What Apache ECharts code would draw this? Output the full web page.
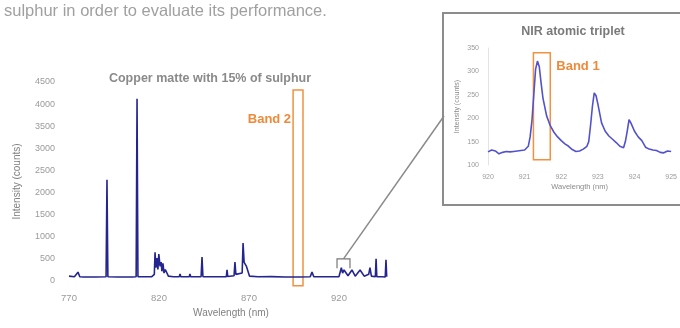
<!DOCTYPE html>
<html>
<head>
<meta charset="utf-8">
<script src="https://cdn.jsdelivr.net/npm/echarts@6/dist/echarts.min.js"></script>
<style>
	html, body { margin: 0; padding: 0; background: #fff; }
	#chart { width: 680px; height: 328px; }
</style>
</head>
<body>
<div id="chart"></div>
<script>
// full spectrum (nm / counts)
var mainWl = [770, 773, 775, 776, 778, 785, 790.6, 791.1, 791.6, 797, 805, 807.3, 807.8, 808.3, 812, 816,
	817.4, 817.8, 818.3, 818.9, 819.4, 819.9, 820.6, 821.2, 821.6, 822.2, 822.8, 823.5, 824.4, 825.2, 828,
	831.3, 831.7, 832.1, 836.8, 837.2, 837.6, 843.4, 843.9, 844.4, 850, 857.4, 857.8, 858.2, 861.7, 862.2,
	862.7, 866.2, 866.7, 867.3, 868.6, 869.4, 870.3, 875, 882.4, 882.8, 883.2, 890, 898, 904, 905, 906, 912,
	920, 921.3, 922, 922.8, 923.8, 925, 927.2, 929, 931.7, 934, 936.5, 937.2, 938, 940.2, 940.6, 941, 944,
	945.7, 946.1, 946.5];
var mainCounts = [110, 95, 200, 95, 90, 90, 95, 2290, 95, 90, 90, 95, 4120, 100, 95, 100,
	150, 650, 300, 520, 260, 610, 330, 430, 220, 400, 180, 260, 300, 110, 95,
	100, 160, 95, 95, 160, 95, 100, 540, 100, 95, 100, 250, 100, 120, 430,
	150, 180, 860, 420, 330, 300, 110, 95, 100, 140, 95, 90, 90, 95, 200, 95, 95,
	100, 300, 180, 250, 220, 120, 250, 110, 250, 110, 150, 300, 110, 95, 500, 95, 95,
	90, 480, 95];
var mainXTicks = [770, 820, 870, 920];

// NIR atomic triplet zoom
var insetWl = [920.0, 920.1, 920.2, 920.3, 920.4, 920.5, 920.6, 920.7, 920.8, 920.9, 921.0, 921.1, 921.15,
	921.2, 921.25, 921.3, 921.35, 921.4, 921.45, 921.5, 921.6, 921.7, 921.8, 921.9, 922.0, 922.1, 922.2,
	922.3, 922.4, 922.5, 922.6, 922.7, 922.75, 922.8, 922.85, 922.9, 922.95, 923.0, 923.1, 923.2, 923.3,
	923.4, 923.5, 923.6, 923.7, 923.75, 923.8, 923.85, 923.9, 924.0, 924.1, 924.2, 924.3, 924.4, 924.5,
	924.6, 924.7, 924.8, 924.9, 925.0];
var insetCounts = [128, 132, 130, 124, 127, 129, 128, 129, 130, 131, 132, 140, 160,
	195, 250, 305, 322, 310, 275, 243, 205, 184, 170, 160, 152, 145, 140,
	133, 129, 130, 134, 140, 150, 185, 225, 254, 248, 230, 190, 172, 162,
	155, 148, 140, 137, 150, 172, 197, 190, 172, 160, 152, 138, 134, 132,
	131, 127, 126, 130, 129];

// highlighted regions
var band2 = [894.5, 900, -110, 4320];
var band1 = [921.24, 921.7, 111, 340];
var zoomBox = [918.9, 926.1, 290, 500];

function pairs(xs, ys){
	var out = [];
	for (var i = 0; i < xs.length; i++) out.push([xs[i], ys[i]]);
	return out;
}
function plain(v){
	return String(v);
}

var chart = echarts.init(document.getElementById('chart'));
var labelGray = '#9a9a9a';
var option = {
	animation: false,
	title: [
		{
			text: 'Copper matte with 15% of sulphur',
			left: 205, top: 67, textAlign: 'center',
			textStyle: { color: '#8a8a8a', fontSize: 12.5, fontWeight: 'bold', fontFamily: 'Liberation Sans' }
		},
		{
			text: 'NIR atomic triplet',
			left: 568, top: 20, textAlign: 'center',
			textStyle: { color: '#7a7a7a', fontSize: 12.5, fontWeight: 'bold', fontFamily: 'Liberation Sans' }
		}
	],
	grid: [
		{ left: 69, right: 287, top: 82, bottom: 47 },
		{ left: 488, right: 7, top: 48, bottom: 163 }
	],
	xAxis: [
		{
			gridIndex: 0, type: 'value', min: 770, max: 950,
			name: 'Wavelength (nm)', nameLocation: 'middle', nameGap: 27,
			nameTextStyle: { color: '#808080', fontSize: 10, fontFamily: 'Liberation Sans' },
			axisLine: { show: false }, axisTick: { show: false }, splitLine: { show: false },
			axisLabel: { customValues: mainXTicks, formatter: plain, color: labelGray, fontSize: 9.5, margin: 12, fontFamily: 'Liberation Sans' }
		},
		{
			gridIndex: 1, type: 'value', min: 920, max: 925, interval: 1,
			name: 'Wavelength (nm)', nameLocation: 'middle', nameGap: 18,
			nameTextStyle: { color: '#8a8a8a', fontSize: 7.5, fontFamily: 'Liberation Sans' },
			axisLine: { show: false }, axisTick: { show: false }, splitLine: { show: false },
			axisLabel: { formatter: plain, color: labelGray, fontSize: 7, margin: 9, fontFamily: 'Liberation Sans' }
		}
	],
	yAxis: [
		{
			gridIndex: 0, type: 'value', min: 0, max: 4500, interval: 500,
			name: 'Intensity (counts)', nameLocation: 'middle', nameGap: 47,
			nameTextStyle: { color: '#808080', fontSize: 10, fontFamily: 'Liberation Sans' },
			axisLine: { show: false }, axisTick: { show: false }, splitLine: { show: false },
			axisLabel: { formatter: plain, color: labelGray, fontSize: 9, margin: 14, fontFamily: 'Liberation Sans' }
		},
		{
			gridIndex: 1, type: 'value', min: 100, max: 350, interval: 50,
			name: 'Intensity (counts)', nameLocation: 'middle', nameGap: 27,
			nameTextStyle: { color: '#8a8a8a', fontSize: 7, fontFamily: 'Liberation Sans' },
			axisLine: { show: true, lineStyle: { color: '#e4e4e4' } }, axisTick: { show: false }, splitLine: { show: false },
			axisLabel: { formatter: plain, color: labelGray, fontSize: 7, margin: 9, fontFamily: 'Liberation Sans' }
		}
	],
	series: [
		{
			type: 'line', xAxisIndex: 0, yAxisIndex: 0, symbol: 'none',
			lineStyle: { color: '#25258f', width: 1.6 },
			data: pairs(mainWl, mainCounts)
		},
		{
			type: 'line', xAxisIndex: 1, yAxisIndex: 1, symbol: 'none',
			lineStyle: { color: '#5252cc', width: 1.6 },
			data: pairs(insetWl, insetCounts)
		}
	]
};
chart.setOption(option);

/*
 * annotations placed from data coordinates
 */
function rectFrom(b, gridIndex){
	var p1 = chart.convertToPixel({ gridIndex: gridIndex }, [b[0], b[3]]);
	var p2 = chart.convertToPixel({ gridIndex: gridIndex }, [b[1], b[2]]);
	return { x: p1[0], y: p1[1], width: p2[0] - p1[0], height: p2[1] - p1[1] };
}
var r2 = rectFrom(band2, 0);
var r1 = rectFrom(band1, 1);
var rz = rectFrom(zoomBox, 0);
var orange = '#f0923f';
chart.setOption({
	graphic: [
		{
			type: 'text', left: 4, top: 3,
			style: { text: 'sulphur in order to evaluate its performance.', fill: '#a0a0a0', fontSize: 16.5, fontFamily: 'Liberation Sans' }
		},
		{
			type: 'rect', shape: { x: 443, y: 13, width: 250, height: 192 },
			style: { fill: 'none', stroke: '#8c8c8c', lineWidth: 2 }
		},
		{
			type: 'rect', shape: r2,
			style: { fill: 'none', stroke: orange, lineWidth: 1.5 }
		},
		{
			type: 'text', x: r2.x - 2, y: 119,
			style: { text: 'Band 2', fill: '#ee8a3a', fontSize: 13, fontWeight: 'bold', fontFamily: 'Liberation Sans', align: 'right', verticalAlign: 'middle' }
		},
		{
			type: 'rect', shape: r1,
			style: { fill: 'none', stroke: orange, lineWidth: 1.5 }
		},
		{
			type: 'text', x: r1.x + r1.width + 6, y: 66,
			style: { text: 'Band 1', fill: '#ee8a3a', fontSize: 13, fontWeight: 'bold', fontFamily: 'Liberation Sans', verticalAlign: 'middle' }
		},
		{
			type: 'polyline',
			shape: { points: [[rz.x, rz.y + rz.height], [rz.x, rz.y], [rz.x + rz.width, rz.y], [rz.x + rz.width, rz.y + rz.height]] },
			style: { fill: 'none', stroke: '#777', lineWidth: 1.2 }
		},
		{
			type: 'line',
			shape: { x1: rz.x + rz.width / 2, y1: rz.y, x2: 444, y2: 116 },
			style: { stroke: '#8a8a8a', lineWidth: 1.5 }
		}
	]
});
</script>
</body>
</html>
